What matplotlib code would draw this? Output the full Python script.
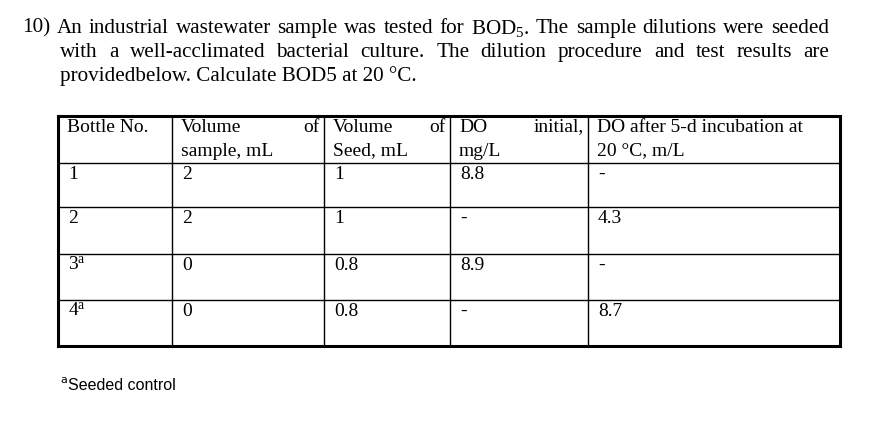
import matplotlib
matplotlib.use("Agg")
import matplotlib.pyplot as plt

plt.rcParams['mathtext.fontset'] = 'custom'
plt.rcParams['mathtext.rm'] = 'Liberation Serif'
plt.rcParams['mathtext.it'] = 'Liberation Serif'

para = ["10) An industrial wastewater sample was tested for BOD$_5$. The sample dilutions were seeded",
        "with a well-acclimated bacterial culture. The dilution procedure and test results are",
        "providedbelow. Calculate BOD5 at 20 °C."]
headers = [["Bottle No.", ""], ["Volume", "sample, mL"], ["Volume", "Seed, mL"],
           ["DO", "mg/L"], ["DO after 5-d incubation at", "20 °C, m/L"]]
header_right = ["", "of", "of", "initial,", ""]
bottles = ["1", "2", "3$^{\\mathrm{a}}$", "4$^{\\mathrm{a}}$"]
vol_sample = ["2", "2", "0", "0"]
vol_seed = ["1", "1", "0.8", "0.8"]
do_init = ["8.8", "-", "8.9", "-"]
do_final = ["-", "4.3", "-", "8.7"]
footnote = "Seeded control"

fig = plt.figure(figsize=(8.81, 4.25), dpi=100)
ax = fig.add_axes([0, 0, 1, 1])
ax.set_xlim(0, 881); ax.set_ylim(425, 0); ax.axis("off")
serif = "Liberation Serif"
renderer = fig.canvas.get_renderer()

ys = [28, 52, 76]
xs = [22, 60, 60]
justify = [True, True, False]
right_edge = 829
for t, x, y, jus in zip(para, xs, ys, justify):
    if not jus:
        ax.text(x, y, t, family=serif, fontsize=15.2, va="center", ha="left")
        continue
    words = t.split(" ")
    arts = [ax.text(0, y, w, family=serif, fontsize=15.2, va="center", ha="left") for w in words]
    widths = [a.get_window_extent(renderer).width for a in arts]
    gap = (right_edge - x - sum(widths)) / (len(words) - 1)
    cx = x
    for a, w in zip(arts, widths):
        a.set_x(cx)
        cx += w + gap

cols = [58, 172, 324, 450, 588, 840]
rows = [116, 163, 207, 254, 300, 346]
for x in cols:
    lw = 2.2 if x in (cols[0], cols[-1]) else 1
    ax.plot([x, x], [rows[0], rows[-1]], color="black", lw=lw)
for y in rows:
    lw = 2.2 if y in (rows[0], rows[-1]) else 1
    ax.plot([cols[0], cols[-1]], [y, y], color="black", lw=lw)

fs = 14
for i, (h, r) in enumerate(zip(headers, header_right)):
    x0 = cols[i] + 9
    ax.text(x0, 127, h[0], family=serif, fontsize=fs, va="center")
    ax.text(x0, 151, h[1], family=serif, fontsize=fs, va="center")
    if r:
        ax.text(cols[i + 1] - 4, 127, r, family=serif, fontsize=fs, va="center", ha="right")

for j, vals in enumerate(zip(bottles, vol_sample, vol_seed, do_init, do_final)):
    yc = rows[j + 1] + 11
    for i, v in enumerate(vals):
        ax.text(cols[i] + 10, yc, v, family=serif, fontsize=fs, va="center")

ax.text(60, 380, "a", family="DejaVu Sans", fontsize=8, va="center")
ax.text(68, 385, footnote, family="Liberation Sans", fontsize=11.5, va="center")

fig.savefig("out.png", dpi=100, facecolor="white")
